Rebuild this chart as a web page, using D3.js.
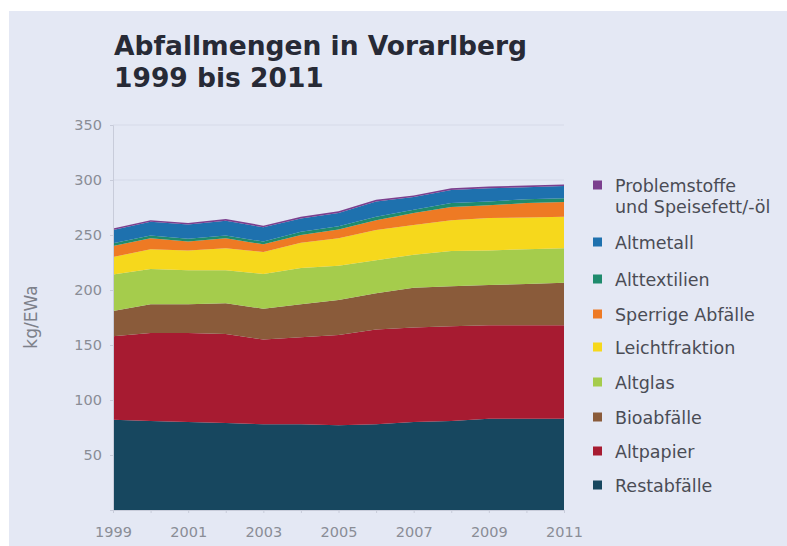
<!DOCTYPE html>
<html>
<head>
<meta charset="utf-8">
<script src="https://cdn.jsdelivr.net/npm/d3@7"></script>
<style>
    body { margin: 0; background: #ffffff; }
    svg { display: block; font-family: "DejaVu Sans", Verdana, sans-serif; }
</style>
</head>
<body>
<div id="chart"></div>
<script>
// Years on the x-axis
const years = [1999, 2000, 2001, 2002, 2003, 2004, 2005, 2006, 2007, 2008, 2009, 2010, 2011];

// kg per inhabitant and year
const restabfaelle = [82, 81, 80, 79, 78, 78, 77, 78, 80, 81, 83, 83, 83];
const altpapier = [76, 80, 81, 81, 77, 79, 82, 86, 86, 86, 85, 85, 85];
const bioabfaelle = [23, 26, 26, 28, 28, 30, 32, 33, 36, 36.5, 36.5, 37.5, 38.5];
const altglas = [33, 32, 31, 30, 31.5, 33, 31, 30, 30, 32, 31.5, 31.5, 31.5];
const leichtfraktion = [16, 18, 18, 20, 20, 23, 25, 27.5, 27, 28, 29.5, 29, 28.5];
const sperrige = [10, 10, 8, 9, 7, 7, 8, 9, 11, 12, 11.5, 13, 13.5];
const alttextilien = [2.5, 2.5, 2.5, 2.5, 2.5, 3, 3, 3, 3, 3.5, 3.5, 3.5, 3.5];
const altmetall = [12, 12.5, 13, 13.5, 13, 12, 12, 14, 11.5, 12, 12, 11, 11];
const problemstoffe = [1.5, 1.5, 1.5, 1.5, 1.5, 1.5, 1.5, 1.5, 1.5, 1.5, 1.5, 1.5, 1.5];

const yTicks = [50, 100, 150, 200, 250, 300, 350];
const xTicks = [1999, 2001, 2003, 2005, 2007, 2009, 2011];

// stacking order, bottom first
const series = [
    { key: "Restabfälle", values: restabfaelle, color: "#17475f" },
    { key: "Altpapier", values: altpapier, color: "#a71b31" },
    { key: "Bioabfälle", values: bioabfaelle, color: "#8a5b3a" },
    { key: "Altglas", values: altglas, color: "#a5cc4c" },
    { key: "Leichtfraktion", values: leichtfraktion, color: "#f6d81c" },
    { key: "Sperrige Abfälle", values: sperrige, color: "#ee7a24" },
    { key: "Alttextilien", values: alttextilien, color: "#1f8b6d" },
    { key: "Altmetall", values: altmetall, color: "#1e71ae" },
    { key: "Problemstoffe\nund Speisefett/-öl", values: problemstoffe, color: "#7b3f8e" }
];

const width = 787, height = 546;

let svg = d3.select("#chart").append("svg").attr("width", width).attr("height", height);

// panel background
svg.append("rect").attr("x", 9).attr("y", 11).attr("width", width - 9).attr("height", height - 11).attr("fill", "#e4e8f4");

// title
let title = svg.append("text").attr("x", 114).attr("y", 55)
    .attr("font-size", 26.5).attr("font-weight", "bold").attr("fill", "#272a36");
title.append("tspan").attr("x", 114).text("Abfallmengen in Vorarlberg");
title.append("tspan").attr("x", 114).attr("dy", 32).text("1999 bis 2011");

// scales
let xScale = d3.scaleLinear().domain([1999, 2011]).range([113, 564]);
let yScale = d3.scaleLinear().domain([0, 350]).range([510, 125]);

// build table for the stack
let table = years.map((y, i) => {
    let row = { year: y };
    series.forEach(s => { row[s.key] = s.values[i]; });
    return row;
});

let stack = d3.stack().keys(series.map(s => s.key));
let stacked = stack(table);

// gridlines
svg.append("g").selectAll("line").data(yTicks).join("line")
    .attr("x1", 113).attr("x2", 564)
    .attr("y1", d => yScale(d)).attr("y2", d => yScale(d))
    .attr("stroke", "#d6dae8").attr("stroke-width", 1);

let area = d3.area()
    .x(d => xScale(d.data.year))
    .y0(d => yScale(d[0]))
    .y1(d => yScale(d[1]));

svg.append("g").selectAll("path").data(stacked).join("path")
    .attr("d", area)
    .attr("fill", (d, i) => series[i].color);

// y-axis
let leftAxis = d3.axisLeft(yScale).tickValues(yTicks).tickSize(3);
let gy = svg.append("g").attr("transform", "translate(113,0)").call(leftAxis);
gy.select(".domain").attr("stroke", "#c8ccda");
gy.selectAll(".tick line").attr("stroke", "#c8ccda");
gy.selectAll(".tick text").attr("x", -11).attr("fill", "#8a8d96").attr("font-size", 14.5)
    .attr("font-family", "DejaVu Sans, sans-serif");

// x-axis
let bottomAxis = d3.axisBottom(xScale).tickValues(years).tickSize(3)
    .tickFormat(d => xTicks.includes(d) ? d3.format("d")(d) : "");
let gx = svg.append("g").attr("transform", "translate(0,510)").call(bottomAxis);
gx.select(".domain").attr("stroke", "#c8ccda");
gx.selectAll(".tick line").attr("stroke", "#c8ccda");
gx.selectAll(".tick text").attr("y", 27).attr("dy", 0).attr("fill", "#8a8d96").attr("font-size", 14.5)
    .attr("font-family", "DejaVu Sans, sans-serif");

// y-axis title
svg.append("text").attr("transform", "translate(37,317) rotate(-90)")
    .attr("text-anchor", "middle").attr("font-size", 17).attr("fill", "#7d808a")
    .text("kg/EWa");

// legend, top item first; y is the centre of each marker
let legendItems = series.slice().reverse();
let legendY = [185, 242, 279, 314, 347, 382, 417, 451, 485];
let legend = svg.append("g").selectAll("g").data(legendItems).join("g")
    .attr("transform", (d, i) => `translate(593,${legendY[i]})`);

legend.append("rect").attr("x", 0).attr("y", -4.5).attr("width", 9).attr("height", 9)
    .attr("fill", d => d.color);

legend.append("text").attr("x", 22).attr("y", 6.5).attr("font-size", 17.5).attr("fill", "#4a4c55")
    .each(function(d) {
        let lines = d.key.split("\n");
        lines.forEach((l, j) => {
            d3.select(this).append("tspan").attr("x", 22).attr("dy", j === 0 ? 0 : 21).text(l);
        });
    });
</script>
</body>
</html>
